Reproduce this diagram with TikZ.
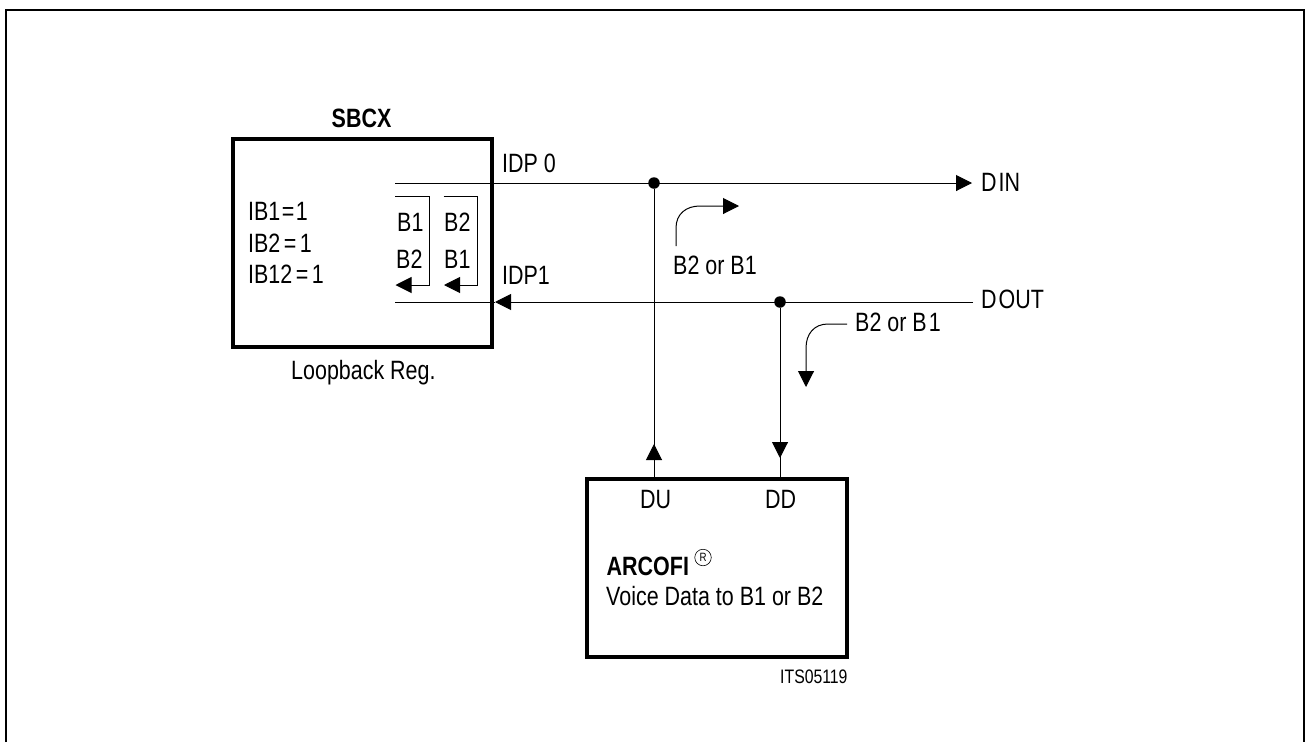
\documentclass[tikz,border=0pt]{standalone}
\usepackage{fontspec}
\setmainfont[FakeStretch=0.81]{Liberation Sans}
\usetikzlibrary{arrows.meta}
\tikzset{
  x=1pt,y=-1pt,
  wire/.style={line width=1pt,black},
  blockbox/.style={draw=black,line width=4pt,fill=none,minimum width=0,inner sep=0},
  tip/.style={-{Triangle[length=16pt,width=16pt]}},
  lbl/.style={inner sep=0,font=\fontsize{26.5}{28}\selectfont,anchor=base west},
  junction/.style={circle,fill=black,inner sep=0,minimum size=11.5pt}
}
\begin{document}
\begin{tikzpicture}
\useasboundingbox (0,0) rectangle (1305,742);
\draw[line width=2pt] (6,742) -- (6,10) -- (1304,10) -- (1304,742);
\draw[blockbox] (233,139) rectangle (491.5,346.5);
\draw[blockbox] (587,479) rectangle (847,657);
\coordinate (sbcxtop) at (395,183);
\coordinate (sbcxbot) at (395,302);
\coordinate (din) at (972,183);
\coordinate (dout) at (973,302);
\coordinate (dutop) at (654,479);
\coordinate (ddtop) at (780,479);
\node[junction] (j1) at (654,183) {};
\node[junction] (j2) at (780,302) {};
\draw[wire,tip] (sbcxtop) -- (din);
\draw[wire,tip] (dout) -- (495,302);
\draw[wire] (sbcxbot) -- (495,302);
\draw[wire,tip] (dutop) -- (654,444);
\draw[wire] (654,450) -- (j1);
\draw[wire,tip] (j2) -- (780,458);
\draw[wire] (780,455) -- (ddtop);
\draw[wire,tip] (395,196) -- (429,196) -- (429,285) -- (395.5,285);
\draw[wire,tip] (443.5,196) -- (477,196) -- (477,285) -- (444,285);
\draw[wire,tip] (676,246) -- (676,228) .. controls (676,214) and (686,206) .. (700,206) -- (739,206);
\draw[wire,tip] (847,324) -- (828,324) .. controls (814,324) and (806,334) .. (806,348) -- (806,387);
\node[lbl,font=\fontsize{26.5}{28}\selectfont\bfseries] (sbcx) at (331.5,127) {SBCX};
\node[lbl] (ib1) at (248,220) {IB1\kern1.5pt=\kern1.5pt1};
\node[lbl] (ib2) at (248,252) {IB2\kern3.5pt=\kern3.5pt1};
\node[lbl] (ib12) at (248,283) {IB12\kern3.5pt=\kern3.5pt1};
\node[lbl] (b1a) at (397,231) {B1};
\node[lbl] (b2a) at (396,268) {B2};
\node[lbl] (b2b) at (444,231) {B2};
\node[lbl] (b1b) at (444,268) {B1};
\node[lbl] (loop) at (291,379) {Loopback Reg.};
\node[lbl] (idp0) at (502,172) {IDP 0};
\node[lbl] (idp1) at (502,284) {IDP1};
\node[lbl] (dinl) at (981,191) {D\kern2pt IN};
\node[lbl] (doutl) at (981,308) {D\kern2pt OUT};
\node[lbl] (or1) at (673,274) {B2 or B1};
\node[lbl] (or2) at (855,331) {B2 or B\kern2pt 1};
\node[lbl] (du) at (640,508) {DU};
\node[lbl] (dd) at (765,508) {DD};
\node[lbl,font=\fontsize{26.5}{28}\selectfont\bfseries] (arcofi) at (606.5,575.5) {ARCOFI};
\node[draw,circle,line width=.6pt,inner sep=0,minimum size=16.5pt,font=\fontsize{12}{13}\selectfont] (reg) at (703,557.5) {R};
\node[lbl] (voice) at (606,605) {Voice Data to B1 or B2};
\node[lbl,font=\fontsize{19.5}{21}\selectfont] (its) at (780,683) {ITS05119};
\end{tikzpicture}
\end{document}
